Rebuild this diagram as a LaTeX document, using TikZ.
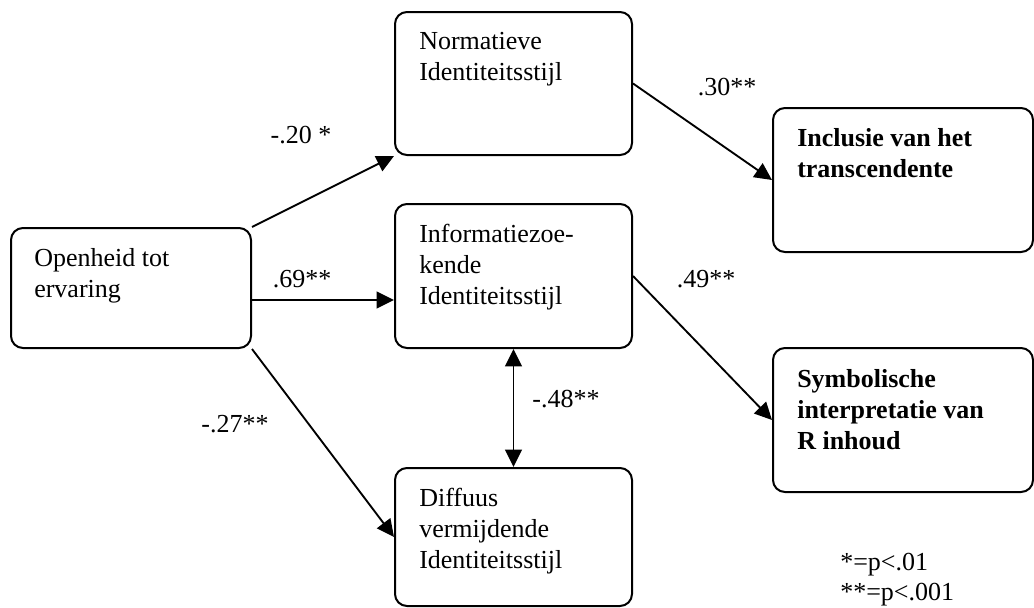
\documentclass[tikz,border=0pt]{standalone}
\usepackage{fontspec}
\setmainfont{Liberation Serif}
\usetikzlibrary{arrows.meta,fit}
\begin{document}
\begin{tikzpicture}[x=0.75pt,y=-0.75pt,
  box/.style={draw, line width=1.5pt, rounded corners=9pt, inner sep=0pt},
  txt/.style={anchor=north west, inner sep=0pt, align=left,
              font=\fontsize{19.5pt}{23.25pt}\selectfont},
  lbl/.style={anchor=base, inner sep=0pt,
              font=\fontsize{19.5pt}{23.25pt}\selectfont},
  arr/.style={line width=1.4pt, -{Triangle[length=13pt,width=12.5pt]}},
  dbl/.style={line width=1.4pt, {Triangle[length=13pt,width=12.5pt]}-{Triangle[length=13pt,width=12.5pt]}}]
\useasboundingbox (0,0) rectangle (1034,607);

% boxes
\node[box, fit={(11,228) (251,348)}]  (open) {};
\node[box, fit={(395,12) (632,155)}]  (norm) {};
\node[box, fit={(395,204) (632,348)}] (info) {};
\node[box, fit={(395,468) (632,606)}] (diff) {};
\node[box, fit={(773,108) (1033,252)}] (incl) {};
\node[box, fit={(773,348) (1033,492)}] (symb) {};

% box texts
\node[txt] (opentxt) at ([xshift=18pt,yshift=-15.75pt]open.north west) {Openheid tot\\ervaring};
\node[txt] (normtxt) at ([xshift=18.75pt,yshift=-15.75pt]norm.north west) {Normatieve\\Identiteitsstijl};
\node[txt] (infotxt) at ([xshift=18.75pt,yshift=-15.75pt]info.north west) {Informatiezoe-\\kende\\Identiteitsstijl};
\node[txt] (difftxt) at ([xshift=18.75pt,yshift=-15.75pt]diff.north west) {Diffuus\\vermijdende\\Identiteitsstijl};
\node[txt, font=\fontsize{19.5pt}{23.25pt}\selectfont\bfseries] (incltxt) at ([xshift=18.75pt,yshift=-15.75pt]incl.north west) {Inclusie van het\\transcendente};
\node[txt, font=\fontsize{19.5pt}{23.25pt}\selectfont\bfseries] (symbtxt) at ([xshift=18.75pt,yshift=-16.5pt]symb.north west) {Symbolische\\interpretatie van\\R inhoud};

% paths
\draw[arr] (open.north east) -- (norm.south west);
\draw[arr] ([yshift=-9pt]open.east) -- ([yshift=-9pt]open.east -| info.west);
\draw[arr] (open.south east) -- (diff.west);
\draw[arr] (norm.east) -- (incl.west);
\draw[arr] (info.east) -- (symb.west);
\draw[dbl] (info.south) -- (diff.north);

% coefficients
\node[lbl] (c1) at (301,143) {-.20 *};
\node[lbl] (c2) at (302,287) {.69**};
\node[lbl] (c3) at (235,432) {-.27**};
\node[lbl] (c4) at (727,95) {.30**};
\node[lbl] (c5) at (706,287) {.49**};
\node[lbl] (c6) at (566,407) {-.48**};

% significance legend
\node[txt, font=\fontsize{19.5pt}{22.5pt}\selectfont] (legend) at (840,553) {*=p<.01\\**=p<.001};
\end{tikzpicture}
\end{document}
